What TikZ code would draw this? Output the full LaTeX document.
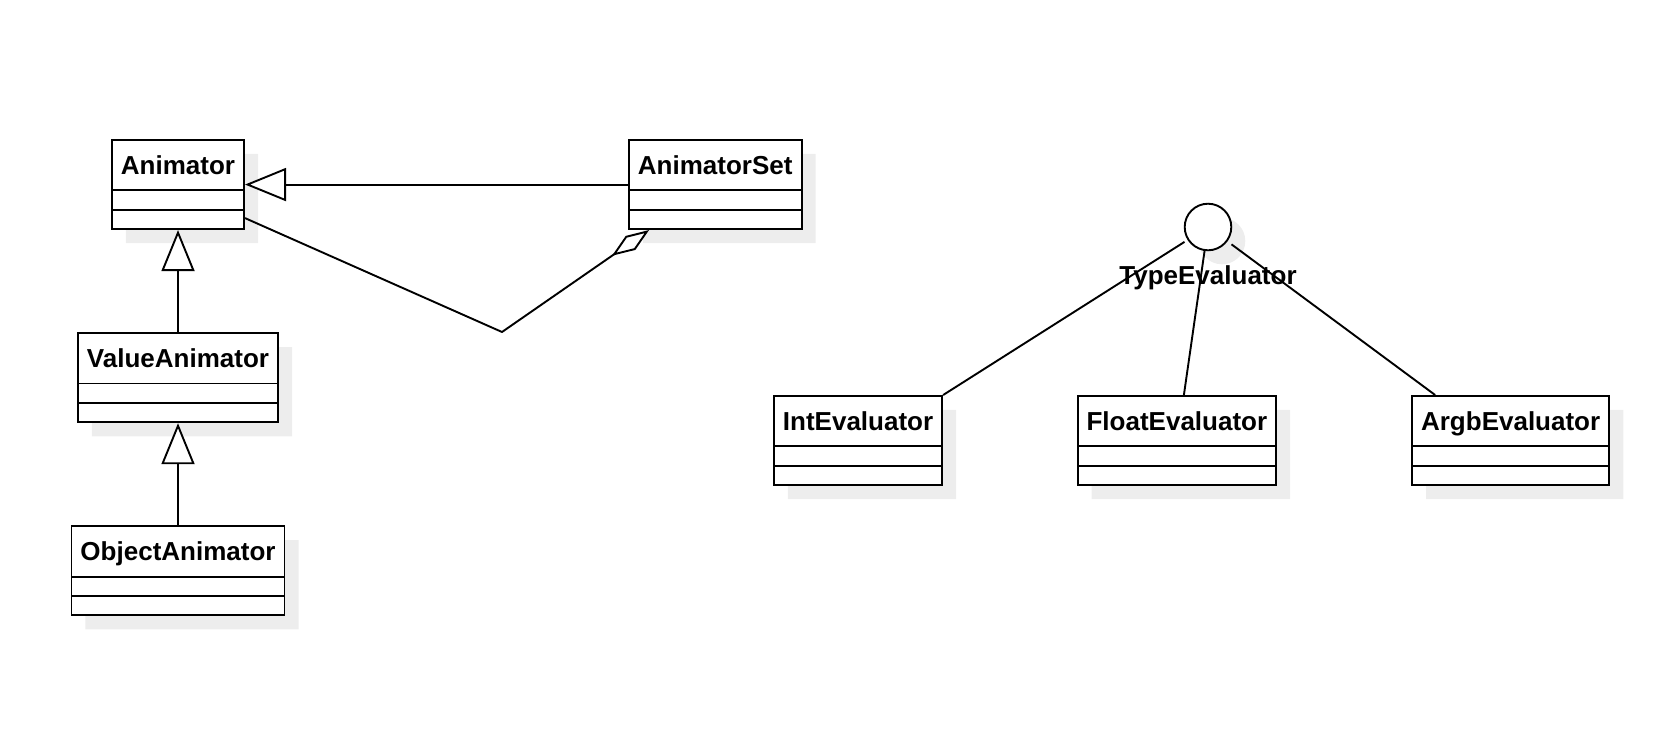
\documentclass[tikz,border=0pt]{standalone}
\usepackage{fontspec}
\setmainfont{Liberation Sans}
\usetikzlibrary{arrows.meta, positioning, shapes.multipart, shadows}

\begin{document}
\begin{tikzpicture}[x=1pt, y=-1pt,
    umlclass/.style={draw, fill=white, line width=1.9pt, rectangle split, rectangle split parts=3,
      rectangle split empty part height=17.5pt, rectangle split empty part depth=0pt,
      inner xsep=9pt, inner ysep=0pt, font=\bfseries\fontsize{26pt}{30pt}\selectfont,
      execute at begin node={\rule[-15pt]{0pt}{48.5pt}},
      drop shadow={shadow xshift=14pt, shadow yshift=-14pt, fill=black!7, opacity=1}},
    inherit/.style={-{Triangle[fill=white, length=41pt, width=33pt]}, line width=1.9pt},
    aggr/.style={-{Diamond[fill=white, length=45pt, width=17pt]}, line width=1.9pt, line join=round},
    link/.style={line width=1.9pt}]
    \useasboundingbox (0,0) rectangle (1674,734);

    % Animator classes
    \node (anim) [umlclass, anchor=north west] at (111,139) {Animator};
    \node (animset) [umlclass, right=383pt of anim] {AnimatorSet};
    \node (valanim) [umlclass, below=102pt of anim] {ValueAnimator};
    \node (objanim) [umlclass, below=102pt of valanim] {ObjectAnimator};

    % Evaluators
    \node (intev) [umlclass, anchor=north west] at (773,395) {IntEvaluator};
    \node (floatev) [umlclass, right=133.5pt of intev] {FloatEvaluator};
    \node (argbev) [umlclass, right=134pt of floatev] {ArgbEvaluator};

    % Interface
    \node (typeev) [rectangle, minimum size=46.6pt, inner sep=0pt] at (1208,227) {};
    \draw[link, fill=white, drop shadow={shadow xshift=14pt, shadow yshift=-14pt, fill=black!7, opacity=1}]
      (typeev.center) circle[radius=23.3pt];
    \node (typelbl) [below=15pt of typeev, inner sep=0pt, font=\bfseries\fontsize{26pt}{30pt}\selectfont] {TypeEvaluator};

    % Arrows
    \coordinate (aggbend) at (502,332);
    \draw[inherit] (animset.west) -- (anim.east);
    \draw[inherit] (valanim.north) -- (anim.south);
    \draw[inherit] (objanim.north) -- (valanim.south);
    \draw[aggr] ([yshift=12pt]anim.south east) -- (aggbend) -- ([xshift=21pt]animset.south west);
    \draw[link] (typeev) -- (intev.north east);
    \draw[link] (typeev) -- ([xshift=7pt]floatev.north);
    \draw[link] (typeev) -- ([xshift=24pt]argbev.north west);
  \end{tikzpicture}
\end{document}
